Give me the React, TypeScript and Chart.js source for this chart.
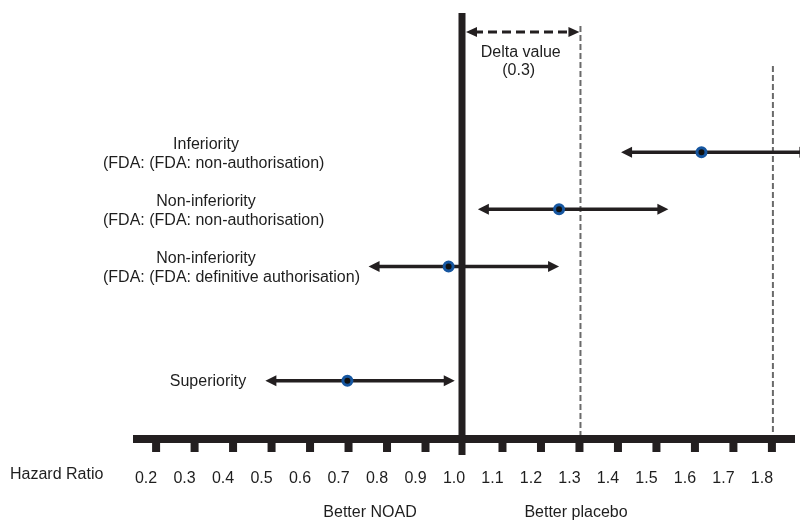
import React, { useEffect, useRef } from "react";
import { Chart, registerables } from "chart.js";

Chart.register(...registerables);

// ---- data ----
const categories = ["Inferiority", "Non-inferiority", "Non-inferiority", "Superiority"];
const subtitles = ["(FDA: (FDA: non-authorisation)", "(FDA: (FDA: non-authorisation)", "(FDA: (FDA: definitive authorisation)", ""];
const rowSlots = [0, 1, 2, 4];
const pointEstimates = [1.617, 1.247, 0.96, 0.697];
const lowerBounds = [1.408, 1.036, 0.752, 0.484];
const upperBounds = [1.9, 1.531, 1.247, 0.976];
const tickLabels = ["0.2", "0.3", "0.4", "0.5", "0.6", "0.7", "0.8", "0.9", "1.0", "1.1", "1.2", "1.3", "1.4", "1.5", "1.6", "1.7", "1.8"];
const referenceValue = 1.0;
const deltaValue = 0.3;
const outerBoundValue = 1.8;
const axisTitle = "Hazard Ratio";
const leftNote = "Better NOAD";
const rightNote = "Better placebo";
const deltaLabel = ["Delta value", "(0.3)"];

const FONT = '16px "Liberation Sans", Arial, sans-serif';
const INK = "#231f20";
const TEXT = "#1e1e1e";

function arrowHead(ctx: CanvasRenderingContext2D, tipX: number, y: number, dir: number, len: number, half: number) {
  ctx.beginPath();
  ctx.moveTo(tipX, y);
  ctx.lineTo(tipX - dir * len, y - half);
  ctx.lineTo(tipX - dir * len, y + half);
  ctx.closePath();
  ctx.fill();
}

const diagramPlugin = {
  id: "diagram",
  beforeDatasetsDraw(chart: any) {
    const { ctx, chartArea, scales } = chart;
    const xs = scales.x;
    const ys = scales.y;
    ctx.save();

    // thin dashed boundary lines
    ctx.strokeStyle = "#6a6a6a";
    ctx.lineWidth = 2;
    ctx.setLineDash([6, 3]);
    const xDelta = xs.getPixelForValue(referenceValue + deltaValue);
    ctx.beginPath();
    ctx.moveTo(xDelta + 1, chartArea.top + 13);
    ctx.lineTo(xDelta + 1, chartArea.bottom);
    ctx.stroke();
    const xOuter = xs.getPixelForValue(outerBoundValue);
    ctx.beginPath();
    ctx.moveTo(xOuter + 1, chartArea.top + 53);
    ctx.lineTo(xOuter + 1, chartArea.bottom);
    ctx.stroke();
    ctx.setLineDash([]);

    // axis line
    ctx.strokeStyle = INK;
    ctx.fillStyle = INK;
    ctx.lineWidth = 8;
    ctx.beginPath();
    ctx.moveTo(chartArea.left, chartArea.bottom);
    ctx.lineTo(chartArea.right, chartArea.bottom);
    ctx.stroke();

    // tick marks + labels
    ctx.font = FONT;
    ctx.textAlign = "center";
    ctx.textBaseline = "middle";
    tickLabels.forEach((t) => {
      const v = parseFloat(t);
      const px = xs.getPixelForValue(v);
      if (Math.abs(v - referenceValue) > 1e-9) {
        ctx.fillStyle = INK;
        ctx.fillRect(px - 4, chartArea.bottom + 3, 8, 10);
      }
      ctx.fillStyle = TEXT;
      ctx.fillText(t, px - 10, chartArea.bottom + 40);
    });

    // thick reference line
    const xRef = xs.getPixelForValue(referenceValue) - 2;
    ctx.fillStyle = INK;
    ctx.fillRect(xRef - 3.5, chartArea.top, 7, chartArea.bottom - chartArea.top + 16);

    // delta arrow
    const yArrow = chartArea.top + 19;
    ctx.strokeStyle = INK;
    ctx.lineWidth = 3;
    ctx.setLineDash([9, 5]);
    ctx.beginPath();
    ctx.moveTo(xRef + 12, yArrow);
    ctx.lineTo(xDelta - 10, yArrow);
    ctx.stroke();
    ctx.setLineDash([]);
    arrowHead(ctx, xRef + 4, yArrow, -1, 11, 5);
    arrowHead(ctx, xDelta, yArrow, 1, 11, 5);
    ctx.fillStyle = TEXT;
    const xMid = (xRef + xDelta) / 2;
    ctx.fillText(deltaLabel[0], xMid, chartArea.top + 40);
    ctx.fillText(deltaLabel[1], xMid - 2, chartArea.top + 58);

    // confidence interval arrows
    ctx.strokeStyle = INK;
    ctx.fillStyle = INK;
    ctx.lineWidth = 3.5;
    categories.forEach((_, i) => {
      const y = ys.getPixelForValue(rowSlots[i]);
      const x1 = xs.getPixelForValue(lowerBounds[i]);
      const x2 = xs.getPixelForValue(upperBounds[i]);
      ctx.beginPath();
      ctx.moveTo(x1 + 8, y);
      ctx.lineTo(x2 - 8, y);
      ctx.stroke();
      arrowHead(ctx, x1, y, -1, 11, 5.5);
      arrowHead(ctx, x2, y, 1, 11, 5.5);
    });

    // row labels
    ctx.fillStyle = TEXT;
    categories.forEach((c, i) => {
      const y = ys.getPixelForValue(rowSlots[i]);
      if (subtitles[i]) {
        ctx.textAlign = "center";
        ctx.fillText(c, 206, y - 8);
        ctx.textAlign = "left";
        ctx.fillText(subtitles[i], 103, y + 11);
      } else {
        ctx.textAlign = "center";
        ctx.fillText(c, 208, y + 1);
      }
    });

    // axis title and notes
    ctx.textAlign = "left";
    ctx.fillText(axisTitle, 10, chartArea.bottom + 36);
    ctx.textAlign = "center";
    ctx.fillText(leftNote, xRef - 92, chartArea.bottom + 74);
    ctx.fillText(rightNote, xRef + 114, chartArea.bottom + 74);

    ctx.restore();
  },
};

export default function App() {
  const ref = useRef<HTMLCanvasElement | null>(null);
  useEffect(() => {
    if (!ref.current) return;
    const chart = new Chart(ref.current, {
      type: "scatter",
      data: {
        datasets: [
          {
            data: pointEstimates.map((v, i) => ({ x: v, y: rowSlots[i] })),
            pointRadius: 4.5,
            pointBorderWidth: 3,
            pointBackgroundColor: "#111111",
            pointBorderColor: "#1656a0",
            clip: false as any,
          },
        ],
      },
      options: {
        responsive: false,
        animation: false,
        devicePixelRatio: 1,
        layout: { autoPadding: false, padding: { left: 133, right: 5, top: 13, bottom: 82 } },
        plugins: { legend: { display: false }, tooltip: { enabled: false } },
        events: [],
        scales: {
          x: { type: "linear", display: false, min: 0.14, max: 1.86 },
          y: { type: "linear", display: false, min: -2.435, max: 5.017, reverse: true },
        },
      },
      plugins: [diagramPlugin],
    });
    return () => chart.destroy();
  }, []);
  return (
    <div style={{ position: "absolute", left: 0, top: 0, width: 800, height: 521, background: "#fff" }}>
      <canvas ref={ref} width={800} height={521} style={{ display: "block" }} />
    </div>
  );
}
